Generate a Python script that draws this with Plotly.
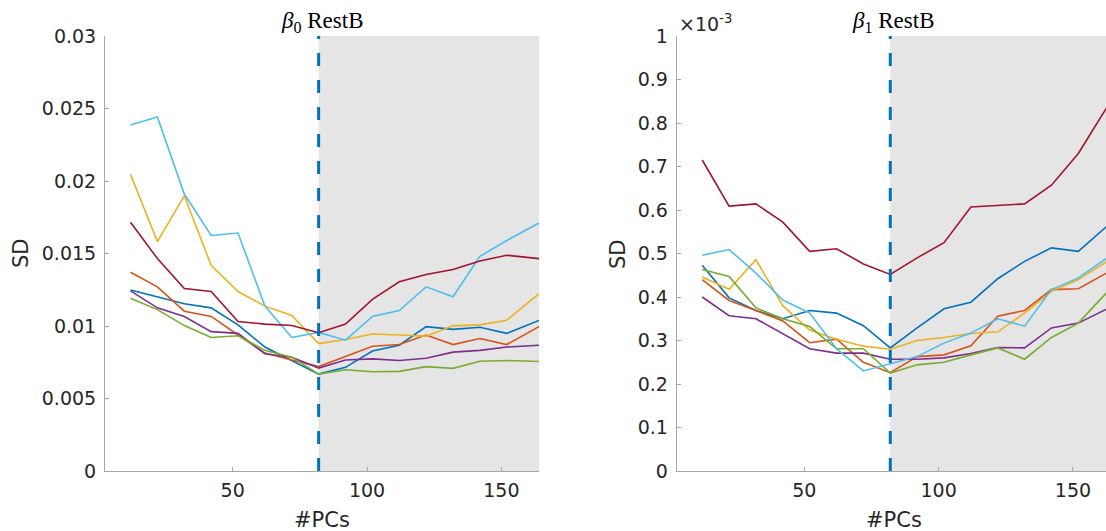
import plotly.graph_objects as go

# ---------------- data ----------------
pcs = [12, 22, 32, 42, 52, 62, 72, 82, 92, 102, 112, 122, 132, 142, 152, 164]
cutoff_pcs = 82

series_names = ["S1", "S2", "S3", "S4", "S5", "S6", "S7"]
series_colors = ["#0072BD", "#D95319", "#EDB120", "#7E2F8E", "#77AC30", "#4DBEEE", "#A2142F"]

# beta0 SD (left panel)
b0_s1 = [0.01249, 0.01200, 0.01153, 0.01125, 0.01008, 0.00855, 0.00762, 0.00668, 0.00715, 0.00827, 0.00867, 0.00996, 0.00977, 0.00991, 0.00949, 0.01038]
b0_s2 = [0.01371, 0.01270, 0.01102, 0.01066, 0.00938, 0.00813, 0.00766, 0.00720, 0.00790, 0.00860, 0.00872, 0.00938, 0.00872, 0.00914, 0.00872, 0.00996]
b0_s3 = [0.02046, 0.01582, 0.01898, 0.01418, 0.01238, 0.01137, 0.01073, 0.00879, 0.00907, 0.00945, 0.00938, 0.00930, 0.01001, 0.01008, 0.01040, 0.01223]
b0_s4 = [0.01242, 0.01125, 0.01066, 0.00961, 0.00949, 0.00809, 0.00785, 0.00710, 0.00766, 0.00773, 0.00762, 0.00778, 0.00820, 0.00832, 0.00855, 0.00867]
b0_s5 = [0.01191, 0.01113, 0.01003, 0.00921, 0.00933, 0.00832, 0.00785, 0.00668, 0.00698, 0.00684, 0.00687, 0.00720, 0.00708, 0.00757, 0.00762, 0.00755]
b0_s6 = [0.02386, 0.02442, 0.01910, 0.01624, 0.01641, 0.01137, 0.00921, 0.00956, 0.00902, 0.01066, 0.01106, 0.01270, 0.01202, 0.01480, 0.01590, 0.01710]
b0_s7 = [0.01716, 0.01465, 0.01259, 0.01238, 0.01031, 0.01013, 0.01003, 0.00954, 0.01013, 0.01184, 0.01305, 0.01355, 0.01390, 0.01448, 0.01488, 0.01465]

# beta1 SD (right panel), in units of 1e-3
b1_s1 = [0.473, 0.398, 0.369, 0.350, 0.369, 0.363, 0.334, 0.283, 0.329, 0.373, 0.388, 0.442, 0.482, 0.513, 0.505, 0.570]
b1_s2 = [0.440, 0.392, 0.369, 0.345, 0.295, 0.303, 0.250, 0.226, 0.263, 0.267, 0.288, 0.356, 0.369, 0.417, 0.419, 0.460]
b1_s3 = [0.446, 0.418, 0.486, 0.380, 0.324, 0.303, 0.287, 0.280, 0.300, 0.307, 0.316, 0.320, 0.363, 0.413, 0.440, 0.487]
b1_s4 = [0.400, 0.357, 0.350, 0.316, 0.281, 0.271, 0.271, 0.257, 0.257, 0.260, 0.270, 0.284, 0.283, 0.329, 0.340, 0.377]
b1_s5 = [0.463, 0.447, 0.375, 0.350, 0.332, 0.281, 0.281, 0.225, 0.244, 0.250, 0.267, 0.283, 0.257, 0.307, 0.340, 0.420]
b1_s6 = [0.496, 0.509, 0.455, 0.393, 0.363, 0.281, 0.230, 0.247, 0.263, 0.294, 0.317, 0.350, 0.333, 0.417, 0.444, 0.495]
b1_s7 = [0.715, 0.609, 0.614, 0.572, 0.505, 0.511, 0.476, 0.452, 0.490, 0.525, 0.607, 0.611, 0.614, 0.657, 0.730, 0.850]

x_tickvals = [50, 100, 150]
y0_tickvals = [0, 0.005, 0.01, 0.015, 0.02, 0.025, 0.03]
y0_ticktext = ["0", "0.005", "0.01", "0.015", "0.02", "0.025", "0.03"]
y1_tickvals = [0, 0.1, 0.2, 0.3, 0.4, 0.5, 0.6, 0.7, 0.8, 0.9, 1]
y1_ticktext = ["0", "0.1", "0.2", "0.3", "0.4", "0.5", "0.6", "0.7", "0.8", "0.9", "1"]

title_left = "<i>β</i><sub>0</sub> RestB"
title_right = "<i>β</i><sub>1</sub> RestB"
x_label = "#PCs"
y_label = "SD"
exp_label = "×10<sup>-3</sup>"

left_series = [b0_s1, b0_s2, b0_s3, b0_s4, b0_s5, b0_s6, b0_s7]
right_series = [b1_s1, b1_s2, b1_s3, b1_s4, b1_s5, b1_s6, b1_s7]

# ---------------- layout geometry (pixels) ----------------
W, H = 1106, 531
def px(x):
    return x / W
def py(y):
    return 1 - y / H

AX_TOP, AX_BOT = 36, 471
L_LEFT, L_RIGHT = 105, 539
R_LEFT = 676.7

TICK_FONT = dict(family="DejaVu Sans", size=19, color="#262626")
LABEL_FONT = dict(family="DejaVu Sans", size=21, color="#262626")
TITLE_FONT = dict(family="Liberation Serif", size=23, color="#000000")
AXIS_COLOR = "#a6a6a6"
SHADE = "#e5e5e5"

fig = go.Figure()

for vals, name, col in zip(left_series, series_names, series_colors):
    fig.add_trace(go.Scatter(x=pcs, y=vals, mode="lines", name=name,
                             line=dict(color=col, width=1.6), xaxis="x", yaxis="y",
                             showlegend=False, hoverinfo="skip"))
for vals, name, col in zip(right_series, series_names, series_colors):
    fig.add_trace(go.Scatter(x=pcs, y=vals, mode="lines", name=name,
                             line=dict(color=col, width=1.6), xaxis="x2", yaxis="y2",
                             showlegend=False, hoverinfo="skip"))

common_x = dict(showline=True, linecolor=AXIS_COLOR, linewidth=1, showgrid=False, zeroline=False,
                ticks="inside", ticklen=4, tickcolor=AXIS_COLOR, tickvals=x_tickvals,
                tickfont=TICK_FONT, ticklabelstandoff=2, automargin=False)
common_y = dict(showline=True, linecolor=AXIS_COLOR, linewidth=1, showgrid=False, zeroline=False,
                ticks="inside", ticklen=4, tickcolor=AXIS_COLOR, tickfont=TICK_FONT,
                ticklabelstandoff=4, automargin=False)

fig.update_layout(
    width=W, height=H,
    margin=dict(l=0, r=0, t=0, b=0, autoexpand=False),
    paper_bgcolor="white", plot_bgcolor="white",
    xaxis=dict(domain=[px(L_LEFT), px(L_RIGHT)], range=[2.5, 164], anchor="y", **common_x),
    yaxis=dict(domain=[py(AX_BOT), py(AX_TOP)], range=[0, 0.03], anchor="x",
               tickvals=y0_tickvals, ticktext=y0_ticktext, **common_y),
    xaxis2=dict(domain=[px(R_LEFT), 1.0], range=[2.5, 162.3], anchor="y2", **common_x),
    yaxis2=dict(domain=[py(AX_BOT), py(AX_TOP)], range=[0, 1], anchor="x2",
                tickvals=y1_tickvals, ticktext=y1_ticktext, **common_y),
)

# shaded region beyond the cutoff and dashed cutoff line
for xr, yr in [("x", "y"), ("x2", "y2")]:
    fig.add_shape(type="rect", xref=xr, yref=yr + " domain", x0=cutoff_pcs, x1=pcs[-1],
                  y0=0, y1=1, fillcolor=SHADE, line=dict(width=0), layer="below")
    fig.add_shape(type="line", xref=xr, yref=yr + " domain", x0=cutoff_pcs, x1=cutoff_pcs,
                  y0=0, y1=1, line=dict(color="#0072BD", width=3, dash="13px,14px"), layer="above")

# texts
ann = []
left_center = (L_LEFT + L_RIGHT) / 2
right_center = R_LEFT + (L_RIGHT - L_LEFT) / 2
for cx, ttl in [(left_center, title_left), (right_center, title_right)]:
    ann.append(dict(x=px(cx), y=py(22), xref="paper", yref="paper", text=ttl, showarrow=False,
                    xanchor="center", yanchor="middle", font=TITLE_FONT))
    ann.append(dict(x=px(cx), y=py(520), xref="paper", yref="paper", text=x_label, showarrow=False,
                    xanchor="center", yanchor="middle", font=LABEL_FONT))
for sx in [20.6, 617.5]:
    ann.append(dict(x=px(sx), y=py((AX_TOP + AX_BOT) / 2), xref="paper", yref="paper", text=y_label,
                    showarrow=False, textangle=-90, xanchor="center", yanchor="middle", font=LABEL_FONT))
ann.append(dict(x=px(677), y=py(23), xref="paper", yref="paper", text=exp_label, showarrow=False,
                xanchor="left", yanchor="middle", font=TICK_FONT))
fig.update_layout(annotations=ann)

fig.write_html("out.html")
